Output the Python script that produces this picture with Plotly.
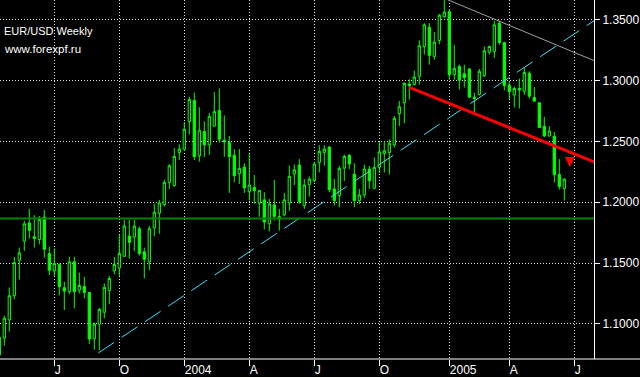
import plotly.graph_objects as go

# ---------------- data ----------------
weeks = list(range(114))  # weekly bars, index 0 = mid-April 2003

opens = [1.0745, 1.0883, 1.1033, 1.1232, 1.1523, 1.1681, 1.1829, 1.1716, 1.1694, 1.1878,
         1.1578, 1.1436, 1.1488, 1.1298, 1.1265, 1.1510, 1.1278, 1.1308, 1.1259, 1.0877,
         1.0998, 1.1096, 1.1273, 1.1436, 1.1459, 1.1556, 1.1722, 1.1714, 1.1782, 1.1592,
         1.1510, 1.1788, 1.1910, 1.1980, 1.2163, 1.2136, 1.2409, 1.2436, 1.2662, 1.2836,
         1.2381, 1.2580, 1.2471, 1.2626, 1.2754, 1.2509, 1.2490, 1.2386, 1.2234, 1.2288,
         1.2087, 1.2123, 1.1992, 1.2019, 1.1823, 1.1978, 1.1864, 1.1896, 1.1994, 1.2231,
         1.2305, 1.1972, 1.2144, 1.2176, 1.2327, 1.2409, 1.2454, 1.2109, 1.2054, 1.2280,
         1.2386, 1.2231, 1.2013, 1.2060, 1.2272, 1.2114, 1.2286, 1.2400, 1.2409, 1.2471,
         1.2727, 1.2817, 1.2972, 1.2967, 1.3034, 1.3279, 1.3438, 1.3198, 1.3328, 1.3525,
         1.3565, 1.3048, 1.3116, 1.3056, 1.3095, 1.2863, 1.2885, 1.3040, 1.3232, 1.3239,
         1.3471, 1.3310, 1.2962, 1.2881, 1.2934, 1.2912, 1.3059, 1.2860, 1.2817, 1.2623,
         1.2544, 1.2542, 1.2227, 1.2113]
highs = [1.0916, 1.1066, 1.1300, 1.1551, 1.1627, 1.1845, 1.1945, 1.1894, 1.1886, 1.1937,
         1.1635, 1.1619, 1.1496, 1.1346, 1.1551, 1.1551, 1.1422, 1.1387, 1.1262, 1.1012,
         1.1132, 1.1333, 1.1395, 1.1549, 1.1733, 1.1855, 1.1855, 1.1855, 1.1801, 1.1627,
         1.1804, 1.1986, 1.2019, 1.2185, 1.2313, 1.2444, 1.2476, 1.2659, 1.2866, 1.2901,
         1.2781, 1.2664, 1.2734, 1.2904, 1.2934, 1.2713, 1.2544, 1.2436, 1.2436, 1.2319,
         1.2395, 1.2223, 1.2101, 1.2082, 1.2027, 1.2182, 1.1945, 1.2076, 1.2301, 1.2311,
         1.2354, 1.2190, 1.2212, 1.2332, 1.2468, 1.2468, 1.2458, 1.2190, 1.2299, 1.2391,
         1.2395, 1.2319, 1.2109, 1.2309, 1.2299, 1.2368, 1.2501, 1.2501, 1.2517, 1.2708,
         1.2832, 1.2985, 1.3010, 1.3081, 1.3330, 1.3471, 1.3471, 1.3397, 1.3548, 1.3667,
         1.3585, 1.3293, 1.3130, 1.3130, 1.3100, 1.2899, 1.3095, 1.3279, 1.3285, 1.3492,
         1.3492, 1.3320, 1.2991, 1.2950, 1.3016, 1.3105, 1.3075, 1.2946, 1.2820, 1.2701,
         1.2623, 1.2577, 1.2354, 1.2196]
lows = [1.0728, 1.0821, 1.0938, 1.1202, 1.1365, 1.1600, 1.1700, 1.1627, 1.1654, 1.1545,
        1.1400, 1.1395, 1.1235, 1.1114, 1.1243, 1.1128, 1.1251, 1.1210, 1.0834, 1.0788,
        1.0785, 1.1047, 1.1161, 1.1406, 1.1392, 1.1551, 1.1537, 1.1597, 1.1561, 1.1373,
        1.1441, 1.1719, 1.1741, 1.1964, 1.2109, 1.2130, 1.2346, 1.2422, 1.2558, 1.2346,
        1.2332, 1.2370, 1.2389, 1.2620, 1.2490, 1.2373, 1.2076, 1.2163, 1.2150, 1.2076,
        1.2013, 1.1986, 1.1880, 1.1776, 1.1761, 1.1850, 1.1768, 1.1884, 1.1929, 1.2141,
        1.1986, 1.1945, 1.2046, 1.2166, 1.2245, 1.2299, 1.2082, 1.1972, 1.1959, 1.2174,
        1.2272, 1.1959, 1.1986, 1.2033, 1.2109, 1.2109, 1.2239, 1.2245, 1.2226, 1.2449,
        1.2626, 1.2648, 1.2844, 1.2958, 1.2967, 1.3212, 1.3130, 1.3171, 1.3297, 1.3514,
        1.3007, 1.3007, 1.2926, 1.2942, 1.2860, 1.2735, 1.2877, 1.3028, 1.3212, 1.3185,
        1.3293, 1.2918, 1.2844, 1.2779, 1.2770, 1.2881, 1.2852, 1.2828, 1.2611, 1.2534,
        1.2542, 1.2163, 1.2103, 1.2013]
closes = [1.0891, 1.1047, 1.1232, 1.1504, 1.1584, 1.1823, 1.1768, 1.1702, 1.1858, 1.1613,
          1.1441, 1.1496, 1.1306, 1.1270, 1.1510, 1.1265, 1.1316, 1.1259, 1.0877, 1.0998,
          1.1120, 1.1300, 1.1373, 1.1488, 1.1578, 1.1804, 1.1670, 1.1804, 1.1578, 1.1531,
          1.1782, 1.1918, 1.1994, 1.2163, 1.2299, 1.2376, 1.2436, 1.2599, 1.2844, 1.2373,
          1.2591, 1.2471, 1.2703, 1.2744, 1.2517, 1.2495, 1.2373, 1.2217, 1.2278, 1.2117,
          1.2141, 1.2095, 1.2095, 1.1837, 1.1986, 1.1884, 1.1882, 1.2019, 1.2212, 1.2266,
          1.2005, 1.2141, 1.2190, 1.2313, 1.2417, 1.2436, 1.2103, 1.2013, 1.2278, 1.2376,
          1.2313, 1.2013, 1.2060, 1.2272, 1.2176, 1.2286, 1.2413, 1.2422, 1.2484, 1.2689,
          1.2784, 1.2975, 1.2956, 1.3029, 1.3285, 1.3457, 1.3206, 1.3315, 1.3536, 1.3561,
          1.3048, 1.3097, 1.3002, 1.3024, 1.2863, 1.2850, 1.3075, 1.3244, 1.3279, 1.3457,
          1.3312, 1.2958, 1.2909, 1.2934, 1.2922, 1.3065, 1.2871, 1.2830, 1.2613, 1.2544,
          1.2585, 1.2226, 1.2129, 1.2190]

tick_weeks = [11, 24, 37, 50, 63, 76, 90, 102, 115]
tick_labels = ["J", "O", "2004", "A", "J", "O", "2005", "A", "J"]
price_ticks = [1.10, 1.15, 1.20, 1.25, 1.30, 1.35]

support_level = 1.1866
red_line_weeks = [82, 118.94]
red_line_prices = [1.2944, 1.2332]
cyan_line_weeks = [19.8, 118.94]
cyan_line_prices = [1.0761, 1.3491]
gray_line_weeks = [86, 118.94]
gray_line_prices = [1.3726, 1.3163]
arrow_week = 114.1
arrow_price = 1.2290

x_range = [0.14, 118.94]
y_range = [1.0712, 1.3661]

# ---------------- figure ----------------
FONT = "Liberation Sans, Arial, sans-serif"
GREEN = "#00FF00"

fig = go.Figure()
fig.add_trace(go.Candlestick(
    x=weeks, open=opens, high=highs, low=lows, close=closes,
    increasing=dict(line=dict(color=GREEN, width=1), fillcolor="#000000"),
    decreasing=dict(line=dict(color=GREEN, width=1), fillcolor=GREEN),
    whiskerwidth=0, showlegend=False, hoverinfo="skip",
))
fig.add_hline(y=support_level, line=dict(color="#008000", width=2))
fig.add_trace(go.Scatter(x=cyan_line_weeks, y=cyan_line_prices, mode="lines",
                         line=dict(color="#40E0F8", width=1, dash="19px,9px"),
                         showlegend=False, hoverinfo="skip"))
fig.add_trace(go.Scatter(x=gray_line_weeks, y=gray_line_prices, mode="lines",
                         line=dict(color="#A0A0A0", width=1),
                         showlegend=False, hoverinfo="skip"))
fig.add_trace(go.Scatter(x=red_line_weeks, y=red_line_prices, mode="lines",
                         line=dict(color="#FF0000", width=3),
                         showlegend=False, hoverinfo="skip"))

fig.add_annotation(x=arrow_week, y=arrow_price, xref="x", yref="y",
                   ax=0, ay=-11, text="", showarrow=True,
                   arrowhead=2, arrowsize=1, arrowwidth=2, arrowcolor="#FF0000")

fig.add_annotation(x=0.003, y=1 - 31 / 361, xref="paper", yref="paper",
                   xanchor="left", yanchor="middle", showarrow=False,
                   text="EUR/USD Weekly", font=dict(family=FONT, size=11, color="white"))
fig.add_annotation(x=0.003, y=1 - 49 / 361, xref="paper", yref="paper",
                   xanchor="left", yanchor="middle", showarrow=False,
                   text="www.forexpf.ru", font=dict(family=FONT, size=11.5, color="white"))

# bottom axis line across the full width
fig.add_shape(type="line", xref="paper", yref="paper", x0=0, x1=640 / 594, y0=0, y1=0,
              line=dict(color="white", width=1))

grid = dict(showgrid=True, gridcolor="#E0E0E0", gridwidth=1, griddash="1px,2px")
fig.update_layout(
    width=640, height=377,
    margin=dict(l=0, r=46, t=0, b=16, pad=0),
    paper_bgcolor="#000000", plot_bgcolor="#000000",
    boxgap=0.35,
    showlegend=False,
    xaxis=dict(range=x_range, tickmode="array", tickvals=tick_weeks, ticktext=tick_labels,
               ticks="outside", ticklen=6, tickwidth=1, tickcolor="white",
               ticklabelposition="outside right",
               tickfont=dict(family=FONT, size=12, color="white"),
               showline=False, zeroline=False, rangeslider=dict(visible=False),
               fixedrange=True, **grid),
    yaxis=dict(side="right", range=y_range, tickmode="array", tickvals=price_ticks,
               ticktext=[f"{v:.4f}" for v in price_ticks],
               ticks="outside", ticklen=5, tickwidth=1, tickcolor="white",
               tickfont=dict(family=FONT, size=12, color="white"),
               showline=True, linecolor="white", linewidth=1, zeroline=False,
               fixedrange=True, **grid),
)

fig.write_html("out.html")
